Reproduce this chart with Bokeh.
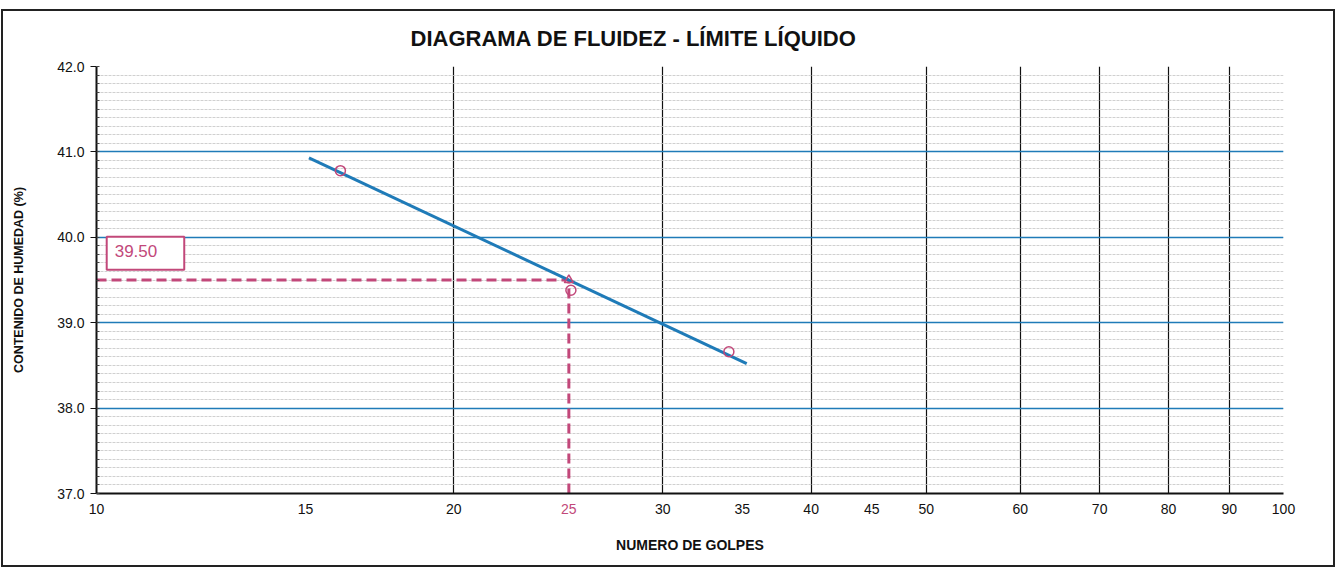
from bokeh.plotting import figure
from bokeh.models import (Range1d, FixedTicker, SingleIntervalTicker, Label, LogAxis,
                          NumeralTickFormatter, BasicTickFormatter)
from bokeh.embed import file_html
from bokeh.resources import INLINE

# data
golpes = [16.05, 25.1, 34.1]
humedad = [40.78, 39.38, 38.66]
trend_x = [15.1, 35.3]
trend_y = [40.93, 38.52]
golpes_ref = 25
limite_liquido = 39.50
x_ticks = [10, 15, 20, 25, 30, 35, 40, 45, 50, 60, 70, 80, 90, 100]
x_grid = [10, 20, 30, 40, 50, 60, 70, 80, 90, 100]

PINK = "#c2487a"
BLUE = "#1f7bb8"
FONT = "Liberation Sans"

p = figure(width=1334, height=558, x_axis_type="log", output_backend="svg",
           toolbar_location=None, x_range=Range1d(10, 100), y_range=Range1d(37, 42),
           min_border_left=93, min_border_right=54, min_border_top=55, min_border_bottom=76)
p.title.text = "DIAGRAMA DE FLUIDEZ - LÍMITE LÍQUIDO"
p.title.align = "left"
p.title.offset = 314
p.title.vertical_align = "top"
p.title.text_font = FONT
p.title.text_font_size = "22px"
p.title.text_font_style = "bold"
p.title.text_color = "#111"
p.title.standoff = 28
p.styles = {"border": "2px solid #222", "margin-left": "1px", "margin-top": "9px"}

p.outline_line_color = None

# main x axis (all labels except the highlighted one)
p.xaxis.ticker = FixedTicker(ticks=x_ticks)
p.xaxis.major_label_overrides = {t: ("" if t == golpes_ref else str(t)) for t in x_ticks}
p.yaxis.ticker = SingleIntervalTicker(interval=1, num_minor_ticks=10)
p.yaxis.formatter = NumeralTickFormatter(format="0.0")
p.yaxis.axis_label = "CONTENIDO DE HUMEDAD (%)"
for ax in (p.xaxis[0], p.yaxis[0]):
    ax.major_label_text_font = FONT
    ax.major_label_text_font_size = "14px"
    ax.major_label_text_color = "#111"
    ax.axis_label_text_font = FONT
    ax.axis_label_text_font_style = "bold"
    ax.axis_label_text_color = "#111"
    ax.axis_line_color = "#111"
    ax.axis_line_width = 2
    ax.major_tick_line_color = "#111"
    ax.minor_tick_line_color = "#444"
p.yaxis.axis_label_text_font_size = "12.5px"
p.xaxis.major_tick_in = 0
p.xaxis.major_tick_out = 0
p.xaxis.minor_tick_line_color = None
p.xaxis.major_label_standoff = 10
p.yaxis.major_tick_out = 6
p.yaxis.major_tick_in = 0
p.yaxis.minor_tick_out = 0
p.yaxis.minor_tick_in = 3
p.yaxis.major_label_standoff = 6
p.yaxis.axis_label_standoff = 28

# second x axis: highlighted "25" in pink, lifted to the tick-label row, plus axis title
ax25 = LogAxis(ticker=FixedTicker(ticks=[golpes_ref]), formatter=BasicTickFormatter(),
               major_label_text_color=PINK, major_label_text_font=FONT,
               major_label_text_font_size="14px", major_label_standoff=-13,
               axis_line_color=None, major_tick_line_color=None,
               minor_tick_line_color=None, major_tick_in=0, major_tick_out=0,
               axis_label="NUMERO DE GOLPES", axis_label_text_font=FONT,
               axis_label_text_font_size="14px", axis_label_text_font_style="bold",
               axis_label_text_color="#111", axis_label_standoff=20)
p.add_layout(ax25, "below")

# grids
p.xgrid.ticker = FixedTicker(ticks=x_grid)
p.xgrid.grid_line_color = "#111"
p.xgrid.grid_line_width = 1.2
p.ygrid.grid_line_color = BLUE
p.ygrid.grid_line_width = 1.6
p.ygrid.minor_grid_line_color = "#c4c4c4"
p.ygrid.minor_grid_line_width = 0.8
p.ygrid.minor_grid_line_dash = "3 1"

# dashed reference lines
p.line([10, golpes_ref], [limite_liquido, limite_liquido], line_color=PINK,
       line_width=3, line_dash="10 5")
p.line([golpes_ref, golpes_ref], [37, limite_liquido], line_color=PINK,
       line_width=3, line_dash="10 5")

# trend line
p.line(trend_x, trend_y, line_color=BLUE, line_width=3)

# points
p.scatter(golpes, humedad, marker="circle", size=10, fill_color=None,
          line_color=PINK, line_width=1.5)
p.scatter([golpes_ref], [limite_liquido], marker="triangle", size=9,
          fill_color=None, line_color=PINK, line_width=1.5)

# value label
p.add_layout(Label(x=10.2, y=39.62, text=f"{limite_liquido:.2f}", text_color=PINK,
                   text_font=FONT, text_font_size="17px",
                   border_line_color=PINK, border_line_width=2,
                   background_fill_color="white", padding=(8, 27, 8, 13)))

open("out.html", "w").write(file_html(p, INLINE))
